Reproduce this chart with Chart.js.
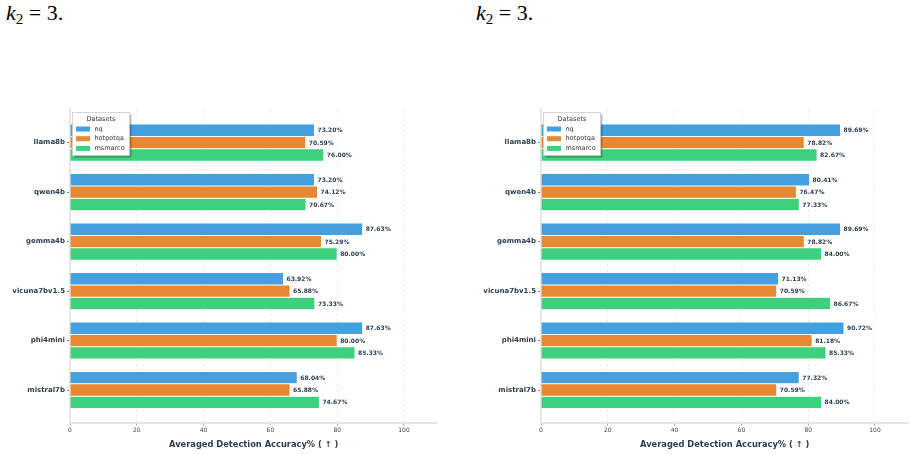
<!DOCTYPE html>
<html>
<head>
<meta charset="utf-8">
<script src="https://cdn.jsdelivr.net/npm/chart.js@4.4.1/dist/chart.umd.min.js"></script>
<style>
  body { margin: 0; background: #fff; width: 915px; height: 454px; position: relative; overflow: hidden; }
  .cap { position: absolute; top: 0px; font-family: "Liberation Serif", serif; font-size: 22px; color: #000; }
  .cap i { font-style: italic; }
  .cap sub { font-size: 15px; vertical-align: -4px; line-height: 0; }
  .box { position: absolute; top: 100px; height: 354px; }
</style>
</head>
<body>
<div class="cap" style="left:6px"><i>k</i><sub>2</sub> = 3.</div>
<div class="cap" style="left:476px"><i>k</i><sub>2</sub> = 3.</div>
<div class="box" style="left:0; width:450px"><canvas id="chartLeft"></canvas></div>
<div class="box" style="left:460px; width:455px"><canvas id="chartRight"></canvas></div>
<script>
const models = ["llama8b", "qwen4b", "gemma4b", "vicuna7bv1.5", "phi4mini", "mistral7b"];
const datasetNames = ["nq", "hotpotqa", "msmarco"];
const xTicks = [0, 20, 40, 60, 80, 100];

// left panel
const leftNq = [73.20, 73.20, 87.63, 63.92, 87.63, 68.04];
const leftHotpot = [70.59, 74.12, 75.29, 65.88, 80.00, 65.88];
const leftMsmarco = [76.00, 70.67, 80.00, 73.33, 85.33, 74.67];

// right panel
const rightNq = [89.69, 80.41, 89.69, 71.13, 90.72, 77.32];
const rightHotpot = [78.82, 76.47, 78.82, 70.59, 81.18, 70.59];
const rightMsmarco = [82.67, 77.33, 84.00, 86.67, 85.33, 84.00];

const colors = ["rgba(52,152,219,0.92)", "rgba(230,126,34,0.92)", "rgba(46,204,113,0.92)"];
const textDark = "#2c3e50";
const font = "'DejaVu Sans', sans-serif";

// value labels at bar ends
const valueLabels = {
  id: "valueLabels",
  afterDatasetsDraw(chart) {
    const ctx = chart.ctx;
    ctx.save();
    ctx.font = "bold 6px " + font;
    ctx.textBaseline = "middle";
    chart.data.datasets.forEach((ds, i) => {
      chart.getDatasetMeta(i).data.forEach((bar, j) => {
        const txt = ds.data[j].x.toFixed(2) + "%";
        const w = ctx.measureText(txt).width;
        ctx.fillStyle = "rgba(255,255,255,0.85)";
        ctx.fillRect(bar.x + 1, bar.y - 4.5, w + 4, 9);
        ctx.fillStyle = textDark;
        ctx.fillText(txt, bar.x + 3, bar.y + 0.5);
      });
    });
    ctx.restore();
  }
};

// legend box inside the plot, top left
const legendBox = {
  id: "legendBox",
  afterDraw(chart) {
    const ctx = chart.ctx;
    const a = chart.chartArea;
    const x = a.left + 2.5, y = a.top + 3.5, w = 57, h = 43;
    ctx.save();
    ctx.fillStyle = "rgba(0,0,0,0.25)";
    ctx.fillRect(x + 2, y + 2, w, h);
    ctx.fillStyle = "#fff";
    ctx.fillRect(x, y, w, h);
    ctx.strokeStyle = "#cccccc";
    ctx.lineWidth = 0.8;
    ctx.strokeRect(x, y, w, h);
    ctx.fillStyle = "#333";
    ctx.textBaseline = "middle";
    ctx.textAlign = "center";
    ctx.font = "6.5px " + font;
    ctx.fillText("Datasets", x + w / 2, y + 6.5);
    ctx.textAlign = "left";
    chart.data.datasets.forEach((ds, i) => {
      const ry = y + 16.5 + i * 9.7;
      ctx.fillStyle = colors[i];
      ctx.fillRect(x + 3.5, ry - 2.5, 14, 5);
      ctx.fillStyle = "#333";
      ctx.fillText(ds.label, x + 22, ry);
    });
    ctx.restore();
  }
};

function makeChart(id, series, axisWidth, padRight) {
  return new Chart(document.getElementById(id), {
    type: "bar",
    data: {
      datasets: series.map((vals, i) => ({
        label: datasetNames[i],
        data: vals.map((v, j) => ({ x: v, y: j })),
        backgroundColor: colors[i],
        borderColor: "rgba(255,255,255,0.45)",
        borderWidth: 0.5,
        categoryPercentage: 0.75,
        barPercentage: 1.0
      }))
    },
    options: {
      indexAxis: "y",
      responsive: false,
      animation: false,
      layout: { padding: { top: 9, right: padRight, bottom: 0, left: 0 } },
      plugins: { legend: { display: false }, tooltip: { enabled: false } },
      scales: {
        x: {
          type: "linear",
          min: 0,
          max: 110,
          afterBuildTicks: (s) => { s.ticks = xTicks.map(v => ({ value: v })); },
          afterFit: (s) => { s.height = 31.3; },
          grid: { color: "rgba(0,0,0,0.09)", lineWidth: 0.8, tickLength: 3, tickColor: "#999" },
          border: { color: "#e6e6e6", width: 2, dash: [3, 2] },
          ticks: { color: "#444", font: { family: font, size: 6 }, padding: 1 },
          title: {
            display: true,
            text: "Averaged Detection Accuracy% ( \u2191 )",
            color: textDark,
            font: { family: font, size: 8.3, weight: "bold" },
            padding: { top: 3, bottom: 4 }
          }
        },
        y: {
          type: "linear",
          min: -0.68,
          max: 5.66,
          reverse: true,
          offset: false,
          afterBuildTicks: (s) => { s.ticks = models.map((m, i) => ({ value: i })); },
          afterFit: (s) => { s.width = axisWidth; },
          grid: { offset: false, drawOnChartArea: false, tickLength: 3, tickColor: "#666", lineWidth: 0.8 },
          border: { color: "#e6e6e6", width: 2 },
          ticks: {
            color: textDark,
            font: { family: font, size: 7, weight: "bold" },
            padding: 2,
            callback: (v) => models[v]
          }
        }
      }
    },
    plugins: [valueLabels, legendBox]
  });
}

function sizeCanvas(id, w, h) {
  const c = document.getElementById(id);
  c.width = w; c.height = h;
  c.style.width = w + "px"; c.style.height = h + "px";
}

sizeCanvas("chartLeft", 450, 354);
sizeCanvas("chartRight", 455, 354);
makeChart("chartLeft", [leftNq, leftHotpot, leftMsmarco], 70, 12.6);
makeChart("chartRight", [rightNq, rightHotpot, rightMsmarco], 81, 6.6);
</script>
</body>
</html>
